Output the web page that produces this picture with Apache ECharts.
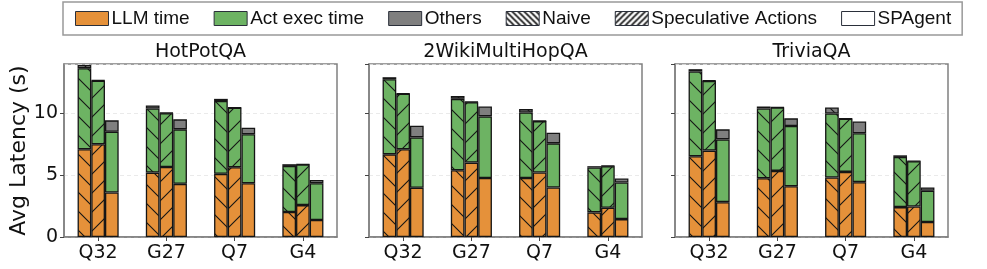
<!DOCTYPE html>
<html>
<head>
<meta charset="utf-8">
<script src="https://cdn.jsdelivr.net/npm/echarts@6/dist/echarts.min.js"></script>
<style>
html,body{margin:0;padding:0;background:#fff;}
#chart{width:987px;height:269px;}
</style>
</head>
<body>
<div id="chart"></div>
<script>
// ---------------- DATA ----------------
const categories = ['Q32', 'G27', 'Q7', 'G4'];
const panelTitles = ['HotPotQA', '2WikiMultiHopQA', 'TriviaQA'];
const methods = ['Naive', 'Speculative Actions', 'SPAgent'];
const segments = ['LLM time', 'Act exec time', 'Others'];
const yTicks = [0, 5, 10];

// rows: Naive, Speculative Actions, SPAgent ; columns: categories
const hotpotLLM    = [[7.10, 5.21, 5.11, 2.02], [7.50, 5.67, 5.65, 2.58], [3.60, 4.30, 4.35, 1.37]];
const hotpotAct    = [[6.56, 5.19, 5.89, 3.73], [5.15, 4.35, 4.81, 3.29], [4.92, 4.41, 3.96, 2.98]];
const hotpotOthers = [[0.26, 0.25, 0.18, 0.14], [0.03, 0.03, 0.03, 0.03], [0.92, 0.81, 0.53, 0.27]];

const wikiLLM      = [[6.69, 5.40, 4.78, 1.99], [7.10, 6.02, 5.22, 2.37], [3.98, 4.78, 4.00, 1.45]];
const wikiAct      = [[6.08, 5.78, 5.30, 3.63], [4.49, 4.89, 4.16, 3.36], [4.08, 4.98, 3.58, 2.96]];
const wikiOthers   = [[0.16, 0.24, 0.27, 0.11], [0.03, 0.03, 0.03, 0.03], [0.94, 0.80, 0.86, 0.32]];

const triviaLLM    = [[6.53, 4.76, 4.81, 2.42], [6.99, 5.35, 5.27, 2.47], [2.82, 4.11, 4.44, 1.21]];
const triviaAct    = [[6.86, 5.64, 5.19, 4.06], [5.64, 5.13, 4.30, 3.66], [5.08, 4.87, 3.95, 2.53]];
const triviaOthers = [[0.19, 0.16, 0.48, 0.13], [0.03, 0.03, 0.03, 0.03], [0.81, 0.62, 0.96, 0.27]];

const panelData = [
  [hotpotLLM, hotpotAct, hotpotOthers],
  [wikiLLM, wikiAct, wikiOthers],
  [triviaLLM, triviaAct, triviaOthers]
];

// ---------------- STYLE ----------------
const ORANGE = '#E5913A';
const GREEN = '#6DB363';
const GRAY = '#7F7F7F';
const EDGE = '#151515';
const segColors = [ORANGE, GREEN, GRAY];
const FONT = 'DejaVu Sans';

function hatch(bg, dir, size, lw, color) {
  const c = document.createElement('canvas');
  c.width = size; c.height = size;
  const g = c.getContext('2d');
  g.fillStyle = bg; g.fillRect(0, 0, size, size);
  g.strokeStyle = color; g.lineWidth = lw; g.lineCap = 'square';
  g.beginPath();
  for (const k of [-size, 0, size]) {
    if (dir === 'back') { g.moveTo(k - 2, -2); g.lineTo(k + size + 2, size + 2); }
    else { g.moveTo(k - 2, size + 2); g.lineTo(k + size + 2, -2); }
  }
  g.stroke();
  return c;
}
const HS = 19;
function fillFor(seg, m) {
  const bg = segColors[seg];
  if (m === 0) return { image: hatch(bg, 'back', HS, 1.1, EDGE), repeat: 'repeat' };
  if (m === 1) return { image: hatch(bg, 'fwd', HS, 1.1, EDGE), repeat: 'repeat' };
  return bg;
}

const gridLefts = [64, 369, 675];
const gridW = 273;
const gridTop = 64, gridH = 173;

const grids = [], xAxes = [], yAxes = [], series = [], graphics = [];
for (let p = 0; p < 3; p++) {
  grids.push({ left: gridLefts[p], top: gridTop, width: gridW, height: gridH,
    show: true, borderColor: '#808080', borderWidth: 1.5, backgroundColor: 'transparent' });
  xAxes.push({ type: 'category', gridIndex: p, data: categories,
    axisLine: { show: true, lineStyle: { color: '#808080', width: 1.5 } },
    axisTick: { show: true, alignWithLabel: true, length: 4, lineStyle: { color: '#444' } },
    axisLabel: { color: '#111', fontFamily: FONT, fontSize: 19, margin: 7 } });
  yAxes.push({ type: 'value', gridIndex: p, min: 0, max: 14, interval: 5,
    name: p === 0 ? 'Avg Latency (s)' : '', nameLocation: 'middle', nameGap: 29, nameRotate: 90,
    nameTextStyle: { fontFamily: FONT, fontSize: 22, color: '#111' },
    axisLine: { show: true, lineStyle: { color: '#808080', width: 1.5 } },
    axisTick: { show: true, length: 4, lineStyle: { color: '#444' } },
    axisLabel: { show: p === 0, color: '#111', fontFamily: FONT, fontSize: 19, margin: 6, showMaxLabel: false,
      formatter: v => (yTicks.indexOf(v) >= 0 ? String(v) : '') },
    splitLine: { show: true, lineStyle: { type: [4, 3], color: '#e4e4e4', width: 0.8 } } });
  graphics.push({ type: 'text', x: gridLefts[p] + gridW / 2, y: 52,
    style: { text: panelTitles[p], fontFamily: FONT, fontSize: 19, fill: '#111', align: 'center', verticalAlign: 'middle', textAlign: 'center', textVerticalAlign: 'middle' } });
  for (let m = 0; m < 3; m++) {
    for (let s = 0; s < 3; s++) {
      series.push({ type: 'bar', name: panelTitles[p] + ' ' + methods[m] + ' ' + segments[s],
        xAxisIndex: p, yAxisIndex: p, stack: 'p' + p + 'm' + m,
        barWidth: 13.7, barGap: '0%', silent: true,
        data: panelData[p][s][m],
        itemStyle: { color: fillFor(s, m), borderColor: EDGE, borderWidth: 1.3 } });
    }
  }
}

// legend-only series (empty, share an existing stack so layout is unaffected)
const legendNames = segments.concat(methods);
legendNames.forEach(n => series.push({ type: 'bar', name: n, xAxisIndex: 0, yAxisIndex: 0, stack: 'p0m0', barWidth: 13.7, barGap: '0%', data: [] }));

const LEG_EDGE = '#2a2f3a';
const legendData = [
  { name: 'LLM time', itemStyle: { color: ORANGE, borderColor: LEG_EDGE, borderWidth: 1 } },
  { name: 'Act exec time', itemStyle: { color: GREEN, borderColor: LEG_EDGE, borderWidth: 1 } },
  { name: 'Others', itemStyle: { color: GRAY, borderColor: LEG_EDGE, borderWidth: 1 } },
  { name: 'Naive', itemStyle: { color: { image: hatch('#ffffff', 'back', 6, 1.6, '#111'), repeat: 'repeat' }, borderColor: LEG_EDGE, borderWidth: 1 } },
  { name: 'Speculative Actions', itemStyle: { color: { image: hatch('#ffffff', 'fwd', 6, 1.6, '#111'), repeat: 'repeat' }, borderColor: LEG_EDGE, borderWidth: 1 } },
  { name: 'SPAgent', itemStyle: { color: '#ffffff', borderColor: LEG_EDGE, borderWidth: 1 } }
];

const chart = echarts.init(document.getElementById('chart'), null, { renderer: 'canvas' });
chart.setOption({
  animation: false,
  backgroundColor: '#fff',
  legend: { data: legendData, left: 63, top: 2, orient: 'horizontal', icon: 'rect',
    itemWidth: 33, itemHeight: 14, itemGap: 24, selectedMode: false,
    padding: [7, 11, 7, 12], borderColor: '#999', borderWidth: 1.5, borderRadius: 0,
    textStyle: { fontFamily: 'Liberation Sans', fontSize: 19, color: '#111', padding: [0, 0, 0, -2] } },
  grid: grids, xAxis: xAxes, yAxis: yAxes, series: series, graphic: graphics
});
</script>
</body>
</html>
